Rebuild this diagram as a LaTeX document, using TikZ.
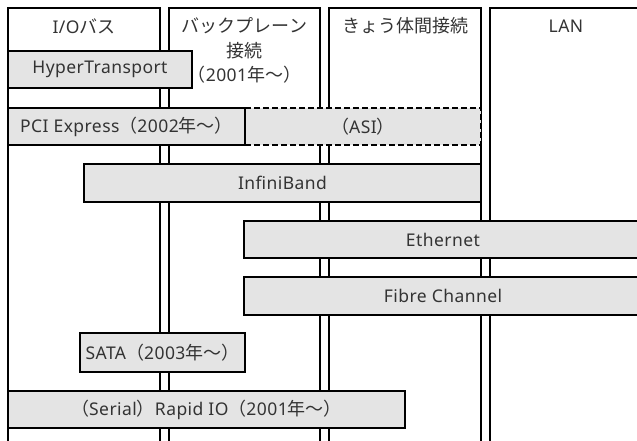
\documentclass[tikz,border=0pt]{standalone}
\usepackage{fontspec}
\setmainfont{Noto Sans}[LetterSpace=2.5]
\newfontfamily\jpfont{Noto Sans CJK JP}
\newcommand\J[1]{{\jpfont\fontsize{18}{24.5}\selectfont #1}}
\definecolor{barfill}{HTML}{E4E4E4}
\definecolor{txt}{HTML}{333333}
\tikzset{
  col/.style={draw=black, line width=1.6pt, line join=miter},
  hdr/.style={text=txt, font=\fontsize{17.5}{24.5}\selectfont, inner sep=0pt, align=center},
  bar/.style={draw=black, line width=1.6pt, fill=barfill, text=txt,
              font=\fontsize{17.5}{24.5}\selectfont, inner sep=0pt},
  dbar/.style={fill=barfill, text=txt, font=\fontsize{17.5}{24.5}\selectfont, inner sep=0pt},
  dashedge/.style={draw=black, line width=1.6pt, dash pattern=on 6pt off 3pt}
}
\begin{document}
\begin{tikzpicture}[x=1pt,y=-1pt]
\useasboundingbox (0,0) rectangle (637,440);
% columns
\draw[col] (8,445) |- (160,8) -- (160,445);
\draw[col] (169,445) |- (320,8) -- (320,445);
\draw[col] (329,445) |- (481,8) -- (481,445);
\draw[col] (490,445) |- (645,8);
% headers
\node[hdr] (h1) at (84,26) {I/O\J{バス}};
\node[hdr] (h2) at (244.5,50.5) {\J{バックプレーン}\\\J{接続}\\\J{（}2001\J{年～）}};
\node[hdr] (h3) at (405,26) {\J{きょう体間接続}};
\node[hdr] (h4) at (566,26) {LAN};
% bars
\node[bar, minimum width=184pt, minimum height=37pt] (ht) at (100,69.5) {HyperTransport};
\node[dbar, minimum width=236pt, minimum height=37pt] (asi) at (363,126.5) {\J{（}ASI\J{）}};
\draw[dashedge] (asi.north west) -- (asi.north east) -- (asi.south east) -- (asi.south west);
\node[bar, minimum width=237pt, minimum height=37pt] (pci) at (126.5,126.5) {PCI Express\J{（}2002\J{年～）}};
\node[bar, minimum width=397pt, minimum height=38pt] (ib) at (282.5,183) {InfiniBand};
\node[bar, minimum width=398pt, minimum height=37pt] (eth) at (443,239.5) {Ethernet};
\node[bar, minimum width=398pt, minimum height=38pt] (fc) at (443,296) {Fibre Channel};
\node[bar, minimum width=165pt, minimum height=39pt] (sata) at (162.5,352.5) {SATA\J{（}2003\J{年～）}};
\node[bar, minimum width=397pt, minimum height=37pt] (rio) at (206.5,409.5) {\J{（}Serial\J{）}Rapid IO\J{（}2001\J{年～）}};
\end{tikzpicture}
\end{document}
